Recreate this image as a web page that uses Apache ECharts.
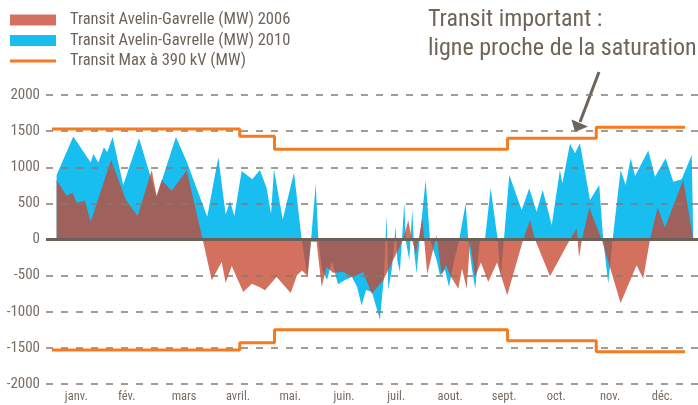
<!DOCTYPE html>
<html><head><meta charset="utf-8">
<script src="https://cdn.jsdelivr.net/npm/echarts@6/dist/echarts.min.js"></script>
<style>html,body{margin:0;padding:0;background:#fff}#c{width:698px;height:405px}</style>
</head><body><div id="c"></div>
<script>
const FONT = "'Roboto Condensed','Open Sans Condensed','DejaVu Sans Condensed',sans-serif";
const TEXT_COLOR = '#6e645a';
const LABEL_COLOR = '#776d64';

const name2006 = 'Transit Avelin-Gavrelle (MW) 2006';
const name2010 = 'Transit Avelin-Gavrelle (MW) 2010';
const nameMax = 'Transit Max à 390 kV (MW)';

const monthLabels = ['janv.', 'fév.', 'mars', 'avril.', 'mai.', 'juin.', 'juil.', 'aout.', 'sept.', 'oct.', 'nov.', 'déc.'];
const monthTicks = [-3, 26, 59, 90, 120, 151, 181, 212, 243, 273, 304, 334];

const yMin = -2000, yMax = 2000, yStep = 500;

// 2010 series (day of year, MW)
const days2010 = [-14.3, -4.7, 5.3, 6.8, 9.7, 12.9, 14.8, 17.9, 24.0, 33.1, 43.2, 54.3, 60.5, 72.3, 78.7, 82.9, 85.4, 87.9, 92.1, 98.2,
  102.6, 106.5, 109.0, 110.7, 115.7, 122.2, 126.6, 129.8, 132.0, 134.7, 136.2, 138.3, 141.2, 144.0, 147.5, 151.5, 155.5, 158.4, 161.1, 163.6,
  167.0, 171.6, 173.9, 175.5, 176.4, 178.5, 180.7, 181.6, 183.1, 185.6, 186.6, 188.5, 190.2, 191.4, 192.7, 194.6, 197.9, 200.4, 204.2, 206.1,
  209.0, 211.3, 214.2, 217.2, 220.9, 222.4, 224.5, 226.4, 229.1, 232.0, 235.3, 239.3, 241.0, 242.9, 246.0, 253.1, 257.5, 261.7, 265.2, 270.4,
  275.1, 276.5, 280.9, 283.8, 286.6, 292.4, 297.7, 300.0, 302.9, 305.4, 310.0, 312.9, 315.8, 318.3, 325.9, 329.8, 335.9, 340.3, 345.1, 350.9, 351.8];
const values2010 = [893, 1426, 1065, 1185, 1065, 1278, 1208, 1417, 755, 1403, 593, 1417, 1079, 315, 1139, 347, 532, 324, 949, 833,
  963, 708, 352, 972, 278, 926, 0, -495, 0, 769, 0, -420, -560, -300, -620, -560, -520, -650, -912, -700,
  -727, -1111, -519, 338, -704, -400, 185, -287, -449, 509, -32, -287, 417, -194, -472, 50, 824, 0, -287, -495,
  -420, -657, -300, 0, 500, 0, -400, -680, 0, 0, 708, 0, -519, 0, 894, 407, 708, 384, 685, 199,
  963, 778, 1324, 1194, 1333, 546, 755, 0, -611, 0, 963, 755, 1125, 880, 1232, 870, 1125, 801, 834, 1171, 0];

// 2006 series (day of year, MW)
const days2006 = [-14.3, -8.5, -5.1, -2.8, 2.0, 5.3, 17.0, 25.6, 32.3, 40.4, 43.2, 46.1, 51.9, 60.5, 69.7, 74.9, 80.6, 82.9, 86.4, 93.0,
  97.9, 102.6, 105.5, 112.2, 120.3, 123.9, 126.8, 130.1, 132.0, 135.2, 138.1, 141.0, 144.6, 150.5, 156.3, 162.0, 166.9, 173.5, 185.0, 187.9,
  190.0, 192.3, 196.0, 198.8, 204.2, 207.1, 209.6, 211.9, 216.7, 218.8, 221.5, 223.4, 226.3, 229.7, 233.9, 238.9, 244.8, 254.0, 257.9, 260.8,
  269.4, 280.9, 284.7, 286.1, 287.8, 292.0, 299.1, 310.0, 319.2, 323.0, 326.9, 331.3, 335.5, 346.0, 351.8];
const values2006 = [824, 602, 648, 509, 537, 245, 1102, 546, 324, 963, 602, 824, 676, 954, 0, -565, -310, -602, -366, -727,
  -611, -660, -704, -519, -741, -495, -430, -509, -32, -32, -657, -380, -460, -449, -519, -449, -750, -565, 0, 268,
  0, -200, 292, -481, 60, -495, -350, -495, -680, -400, -680, -30, -519, -320, -588, -320, -773, 0, 268, 0,
  -509, 0, 153, -250, 0, 444, 0, -880, -356, -542, 0, 444, 167, 824, 0];

// Transit max: period bounds (days) and level per period (MW)
const limitDays = [-17, 91, 111, 245, 296, 347];
const limitValues = [1530, 1430, 1250, 1400, 1555];

const zip = (xs, ys) => xs.map((x, i) => [x, ys[i]]);
function stepPoints(sign) {
  const pts = limitValues.map((v, i) => [limitDays[i], sign * v]);
  pts.push([limitDays[limitDays.length - 1], sign * limitValues[limitValues.length - 1]]);
  return pts;
}

const chart = echarts.init(document.getElementById('c'), null, {renderer: 'canvas'});
chart.setOption({
  animation: false,
  backgroundColor: '#ffffff',
  textStyle: {fontFamily: FONT},
  grid: {left: 46, right: 0, top: 95, bottom: 21, outerBoundsMode: 'none'},
  legend: {
    orient: 'vertical', left: 5, top: 6.5, itemWidth: 46, itemHeight: 11, itemGap: 3.5,
    selectedMode: false, symbolKeepAspect: true,
    textStyle: {color: TEXT_COLOR, fontSize: 16.5, lineHeight: 17, fontFamily: FONT, padding: [0, 0, 0, 9]},
    data: [
      {name: name2006, icon: 'rect'},
      {name: name2010, icon: 'rect'},
      {name: nameMax, icon: 'path://M0,0H46V3H0Z'}
    ]
  },
  xAxis: {
    type: 'value', min: -20.4, max: 354.5,
    axisLine: {show: false}, axisTick: {show: false}, splitLine: {show: false},
    axisLabel: {
      customValues: monthTicks,
      formatter: v => monthLabels[monthTicks.indexOf(v)] || '',
      color: LABEL_COLOR, fontSize: 12.5, fontFamily: FONT, margin: 6
    }
  },
  yAxis: {
    type: 'value', min: yMin, max: yMax, interval: yStep, z: 3,
    axisLine: {show: false}, axisTick: {show: false},
    axisLabel: {color: LABEL_COLOR, fontSize: 15, fontFamily: FONT, margin: 6, formatter: v => String(v)},
    splitLine: {lineStyle: {color: '#857b72', type: [7, 8], width: 1.5}}
  },
  series: [
    {
      name: name2010, type: 'line', data: zip(days2010, values2010), symbol: 'none', silent: true,
      lineStyle: {width: 0, opacity: 0}, itemStyle: {color: '#18bef0'},
      areaStyle: {color: '#18bef0', opacity: 1}, z: 2
    },
    {
      name: name2006, type: 'line', data: zip(days2006, values2006), symbol: 'none', silent: true,
      lineStyle: {width: 0, opacity: 0}, itemStyle: {color: '#d4705f'},
      areaStyle: {color: 'rgba(199,69,46,0.77)', opacity: 1}, z: 2
    },
    {
      name: nameMax, type: 'line', step: 'end', data: stepPoints(1), symbol: 'none', silent: true,
      lineStyle: {color: '#f47b20', width: 3}, itemStyle: {color: '#f47b20'}, z: 5,
      markLine: {
        silent: true, symbol: 'none', label: {show: false},
        lineStyle: {color: '#6b6158', type: 'solid', width: 3},
        data: [{yAxis: 0}]
      }
    },
    {
      name: nameMax, type: 'line', step: 'end', data: stepPoints(-1), symbol: 'none', silent: true,
      lineStyle: {color: '#f47b20', width: 3}, itemStyle: {color: '#f47b20'}, z: 5
    }
  ],
  graphic: [
    {type: 'text', left: 428, top: 8, style: {text: 'Transit important :', font: '24px ' + FONT, fill: TEXT_COLOR}},
    {type: 'text', left: 428, top: 36.5, style: {text: 'ligne proche de la saturation', font: '24px ' + FONT, fill: TEXT_COLOR}},
    {type: 'line', shape: {x1: 599, y1: 72, x2: 580, y2: 122}, style: {stroke: TEXT_COLOR, lineWidth: 3}},
    {type: 'polygon', shape: {points: [[575, 132], [571.5, 119.5], [588, 126.5]]}, style: {fill: TEXT_COLOR}}
  ]
});
</script></body></html>
